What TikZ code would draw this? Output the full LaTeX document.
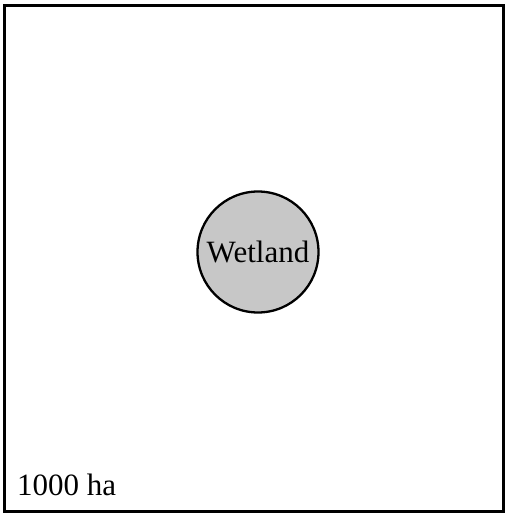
\documentclass[tikz,border=0pt]{standalone}
\usepackage{fontspec}
\setmainfont{Liberation Serif}
\usetikzlibrary{positioning}

\begin{document}
\begin{tikzpicture}[
		x=1pt, y=-1pt,
		every node/.style={
				font=\fontsize{31}{36}\selectfont
			},
		area/.style={
				draw,
				line width=3pt,
				minimum width=499pt,
				minimum height=506pt,
				inner sep=0pt
			},
		pond/.style={
				draw,
				circle,
				fill=black!22,
				line width=2.3pt,
				minimum size=121pt,
				inner sep=0pt
			}
	]
	\useasboundingbox (0,0) rectangle (507,517);

	\node[area] (frame) at (253.5,258) {};
	\node[pond] (wetland) at (258,252) {Wetland};

	\node[anchor=base west, inner sep=0pt] (size) at (17,495) {1000 ha};
\end{tikzpicture}
\end{document}
